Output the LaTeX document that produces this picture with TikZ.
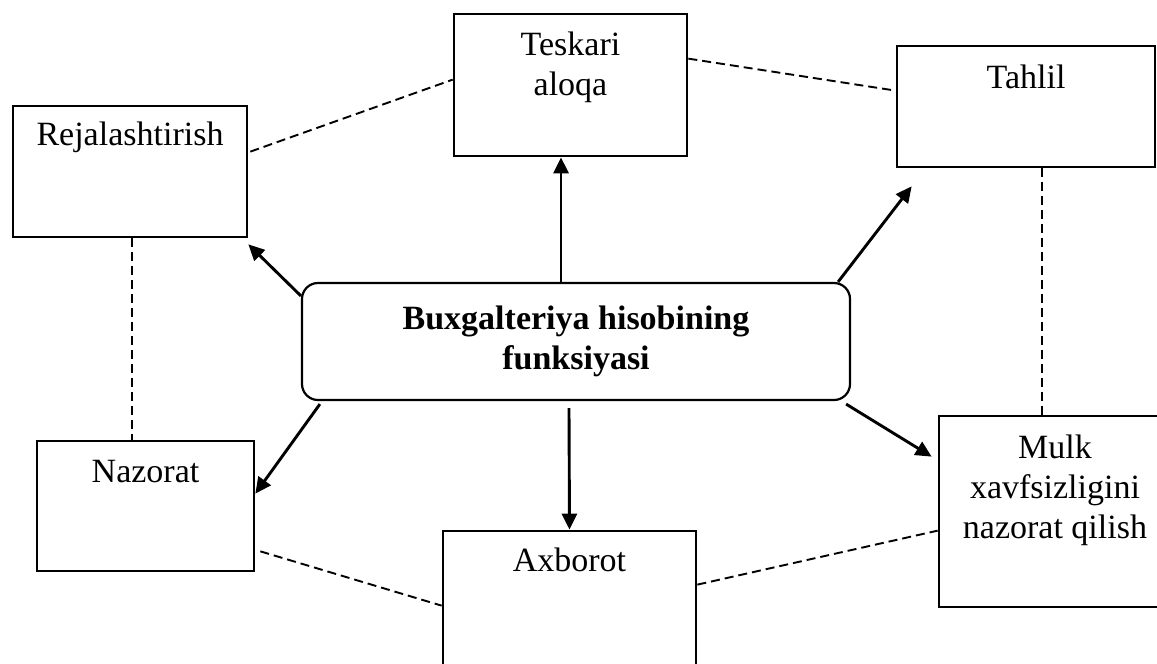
\documentclass[tikz,border=0pt]{standalone}
\usepackage{fontspec}
\setmainfont{Liberation Serif}
\usetikzlibrary{arrows.meta}
\begin{document}
\begin{tikzpicture}[x=1pt,y=1pt,
  box/.style={draw, line width=2.7pt, rectangle, inner sep=0pt},
  hub/.style={draw, line width=2.2pt, rectangle, rounded corners=16pt, inner sep=0pt},
  txt/.style={anchor=north, inner sep=0pt, align=center, font=\fontsize{34}{40}\selectfont},
  arr/.style={line width=2.9pt, -{Triangle[length=16pt,width=15pt]}},
  link/.style={line width=1.9pt, dash pattern=on 9pt off 5pt}]
\clip (0,0) rectangle (1157,664);
\fill[white] (0,0) rectangle (1157,664);

% central function box
\node[hub, minimum width=548pt, minimum height=117pt] (cen) at (576,322.5) {};
\node[txt, font=\fontsize{34}{40}\selectfont\bfseries] (cent) at ([yshift=-19pt]cen.north)
  {\strut Buxgalteriya hisobining\\funksiyasi};

% surrounding boxes
\node[box, minimum width=234pt, minimum height=131pt] (rej) at (130,492.5) {};
\node[box, minimum width=233pt, minimum height=142pt] (tes) at (570.5,579) {};
\node[box, minimum width=258pt, minimum height=121pt] (tah) at (1026,557.5) {};
\node[box, minimum width=217pt, minimum height=130pt] (naz) at (145.5,158) {};
\node[box, minimum width=253pt, minimum height=179pt] (axb) at (569.5,43.5) {};
\node[box, minimum width=232pt, minimum height=191pt] (mul) at (1055,152.5) {};

\node[txt] (rejt) at ([yshift=-13pt]rej.north) {\strut Rejalashtirish};
\node[txt] (test) at ([yshift=-15pt]tes.north) {\strut Teskari\\aloqa};
\node[txt] (taht) at ([yshift=-16pt]tah.north) {\strut Tahlil};
\node[txt] (nazt) at ([yshift=-15pt]naz.north) {\strut Nazorat};
\node[txt] (axbt) at ([yshift=-14pt]axb.north) {\strut Axborot};
\node[txt] (mult) at ([yshift=-16pt]mul.north) {\strut Mulk\\xavfsizligini\\nazorat qilish};

% arrows from the centre
\draw[arr] ([yshift=-14pt]cen.north west) -- ([yshift=-6pt]rej.south east);
\draw[arr] ([xshift=-15pt]cen.north) -- ([xshift=-9.5pt]tes.south);
\draw[arr] ([xshift=-13pt]cen.north east) -- ([xshift=16pt,yshift=-18pt]tah.south west);
\draw[arr] ([xshift=-5pt,yshift=-3pt]cen.south east) -- ([xshift=-6pt,yshift=-42pt]mul.north west);
\draw[arr] ([xshift=19pt,yshift=-3pt]cen.south west) -- ([yshift=-54pt]naz.north east);
\draw[arr] ([xshift=-7pt,yshift=-7pt]cen.south) -- (axb.north);

% dashed links between neighbouring boxes
\draw[link] ([xshift=2pt,yshift=-47pt]rej.north east) -- ([yshift=-67pt]tes.north west);
\draw[link] ([yshift=-46pt]tes.north east) -- ([yshift=-46pt]tah.north west);
\draw[link] ([xshift=16pt]tah.south) -- ([xshift=-13pt]mul.north);
\draw[link] ([yshift=-55pt]axb.north east) -- ([yshift=-116pt]mul.north west);
\draw[link] ([xshift=5pt,yshift=21pt]naz.south east) -- ([yshift=-76pt]axb.north west);
\draw[link] ([xshift=2pt]rej.south) -- ([xshift=-13.5pt]naz.north);
\end{tikzpicture}
\end{document}
